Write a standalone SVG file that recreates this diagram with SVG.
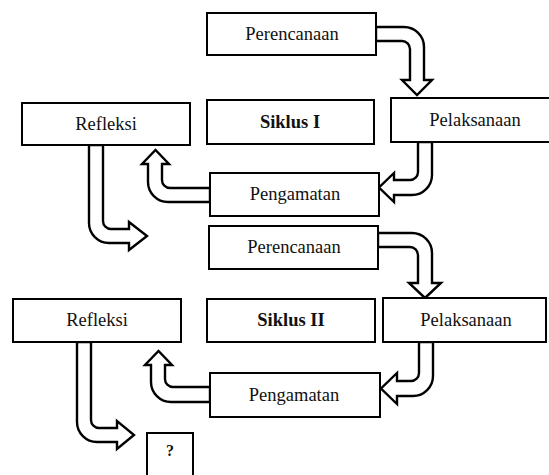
<svg xmlns="http://www.w3.org/2000/svg" width="549" height="475" viewBox="0 0 549 475">
<style>
.box{fill:#fff;stroke:#000;stroke-width:2}
.arr{fill:#fff;stroke:#000;stroke-width:2.4;stroke-linejoin:miter}
.t{font-family:"Liberation Serif","Times New Roman",serif;font-size:18.5px;fill:#111;text-anchor:middle}
.b{font-weight:bold}
</style>
<rect width="549" height="475" fill="#fff"/>
<g id="connectors">
<path class="arr" d="M376,27 H404 A20,20 0 0 1 424,47 V80 H432 L417,95 L402,80 H410 V49 A8,8 0 0 0 402,41 H376 Z"/>
<path class="arr" d="M418,142 V172 A8,8 0 0 1 410,180 H394 V173 L379,187.5 L394,202 V195 H412 A20,20 0 0 0 432,175 V142 Z"/>
<path class="arr" d="M210,188 H170 A8,8 0 0 1 162,180 V164 H169 L155.5,150 L142,164 H148 V182 A20,20 0 0 0 168,202 H210 Z"/>
<path class="arr" d="M89,145 V223 A20,20 0 0 0 109,243 H129 V250 L147,236 L129,222 V229 H111 A8,8 0 0 1 103,221 V145 Z"/>
<path class="arr" d="M378,233 H412 A20,20 0 0 1 432,253 V283 H441 L425,298 L409,283 H418 V255 A8,8 0 0 0 410,247 H378 Z"/>
<path class="arr" d="M419,342 V373 A8,8 0 0 1 411,381 H397 V373 L381,388.5 L397,404 V396 H413 A20,20 0 0 0 433,376 V342 Z"/>
<path class="arr" d="M210,387 H173 A8,8 0 0 1 165,379 V365 H172 L158.5,351 L145,365 H151 V382 A20,20 0 0 0 171,402 H210 Z"/>
<path class="arr" d="M77,342 V422 A20,20 0 0 0 97,442 H117 V449 L134,435 L117,421 V428 H99 A8,8 0 0 1 91,420 V342 Z"/>
</g>
<g id="perencanaan1"><rect class="box" x="207" y="13" width="169" height="42"/><text class="t" x="292" y="40">Perencanaan</text></g>
<g id="refleksi1"><rect class="box" x="22" y="103" width="168" height="42"/><text class="t" x="106" y="130">Refleksi</text></g>
<g id="siklus1"><rect class="box" x="207" y="100" width="167" height="44"/><text class="t b" x="290" y="128">Siklus I</text></g>
<g id="pelaksanaan1"><rect class="box" x="391" y="98" width="162" height="44"/><text class="t" x="475" y="126">Pelaksanaan</text></g>
<g id="pengamatan1"><rect class="box" x="210" y="173" width="169" height="43"/><text class="t" x="295" y="200">Pengamatan</text></g>
<g id="perencanaan2"><rect class="box" x="209" y="226" width="169" height="43"/><text class="t" x="294" y="253">Perencanaan</text></g>
<g id="refleksi2"><rect class="box" x="13" y="299" width="168" height="43"/><text class="t" x="97" y="326">Refleksi</text></g>
<g id="siklus2"><rect class="box" x="207" y="299" width="168" height="43"/><text class="t b" x="291" y="326">Siklus II</text></g>
<g id="pelaksanaan2"><rect class="box" x="383" y="298" width="163" height="44"/><text class="t" x="466" y="326">Pelaksanaan</text></g>
<g id="pengamatan2"><rect class="box" x="210" y="373" width="170" height="44"/><text class="t" x="294" y="401">Pengamatan</text></g>
<g id="question"><rect class="box" x="147" y="433" width="46" height="50"/><text class="t b" x="170" y="456" style="font-size:16px">?</text></g>
</svg>
